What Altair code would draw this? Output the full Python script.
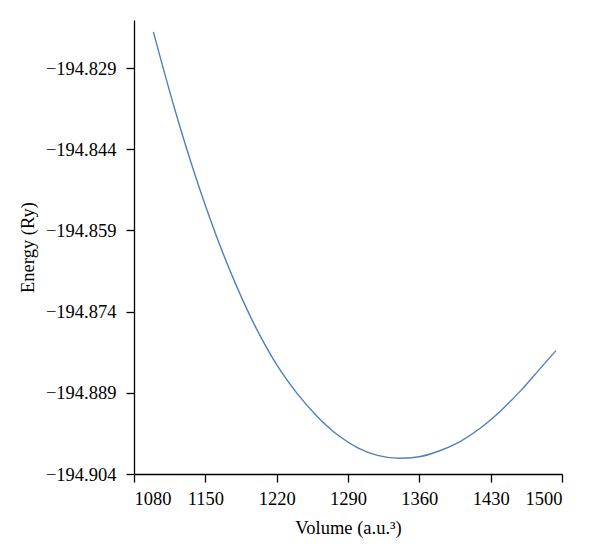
import altair as alt
import pandas as pd

volume = [1099, 1120, 1140, 1160, 1180, 1200, 1220, 1240, 1260, 1280, 1300,
          1320, 1340, 1360, 1380, 1400, 1420, 1440, 1460, 1480, 1494]
energy = [-194.8223, -194.8366, -194.8488, -194.8596, -194.8690, -194.8771,
          -194.8838, -194.8891, -194.8934, -194.8968, -194.8992, -194.9006,
          -194.9011, -194.9008, -194.8997, -194.8980, -194.8955, -194.8923,
          -194.8885, -194.8842, -194.8812]

x_ticks = [1080, 1150, 1220, 1290, 1360, 1430, 1500]
y_ticks = [-194.904, -194.889, -194.874, -194.859, -194.844, -194.829]

df = pd.DataFrame({"Volume": volume, "Energy": energy})

font = "Liberation Serif"

chart = alt.Chart(df).mark_line(
    color="#4f81bd", strokeWidth=1.4, interpolate="monotone"
).encode(
    x=alt.X("Volume:Q",
            scale=alt.Scale(domain=[1080, 1500], nice=False, zero=False),
            axis=alt.Axis(values=x_ticks, title="Volume (a.u.³)", format="d",
                          labelPadding=7, titlePadding=11)),
    y=alt.Y("Energy:Q",
            scale=alt.Scale(domain=[-194.904, -194.8201], nice=False, zero=False),
            axis=alt.Axis(values=y_ticks, title="Energy (Ry)", format=".3f",
                          labelPadding=10, titlePadding=8)),
).properties(
    width=428, height=454,
    autosize=alt.AutoSizeParams(type="none"),
    padding={"left": 126, "top": 12, "right": 30, "bottom": 70},
).configure_view(
    stroke=None
).configure_axis(
    grid=False,
    domainColor="black", domainWidth=1.3,
    tickColor="black", tickWidth=1.3, tickSize=8,
    labelFont=font, labelFontSize=18.5, labelColor="black",
    titleFont=font, titleFontSize=18.5, titleColor="black", titleFontWeight="normal",
)

chart.save("out.html", embed_options={"renderer": "svg", "actions": False})
